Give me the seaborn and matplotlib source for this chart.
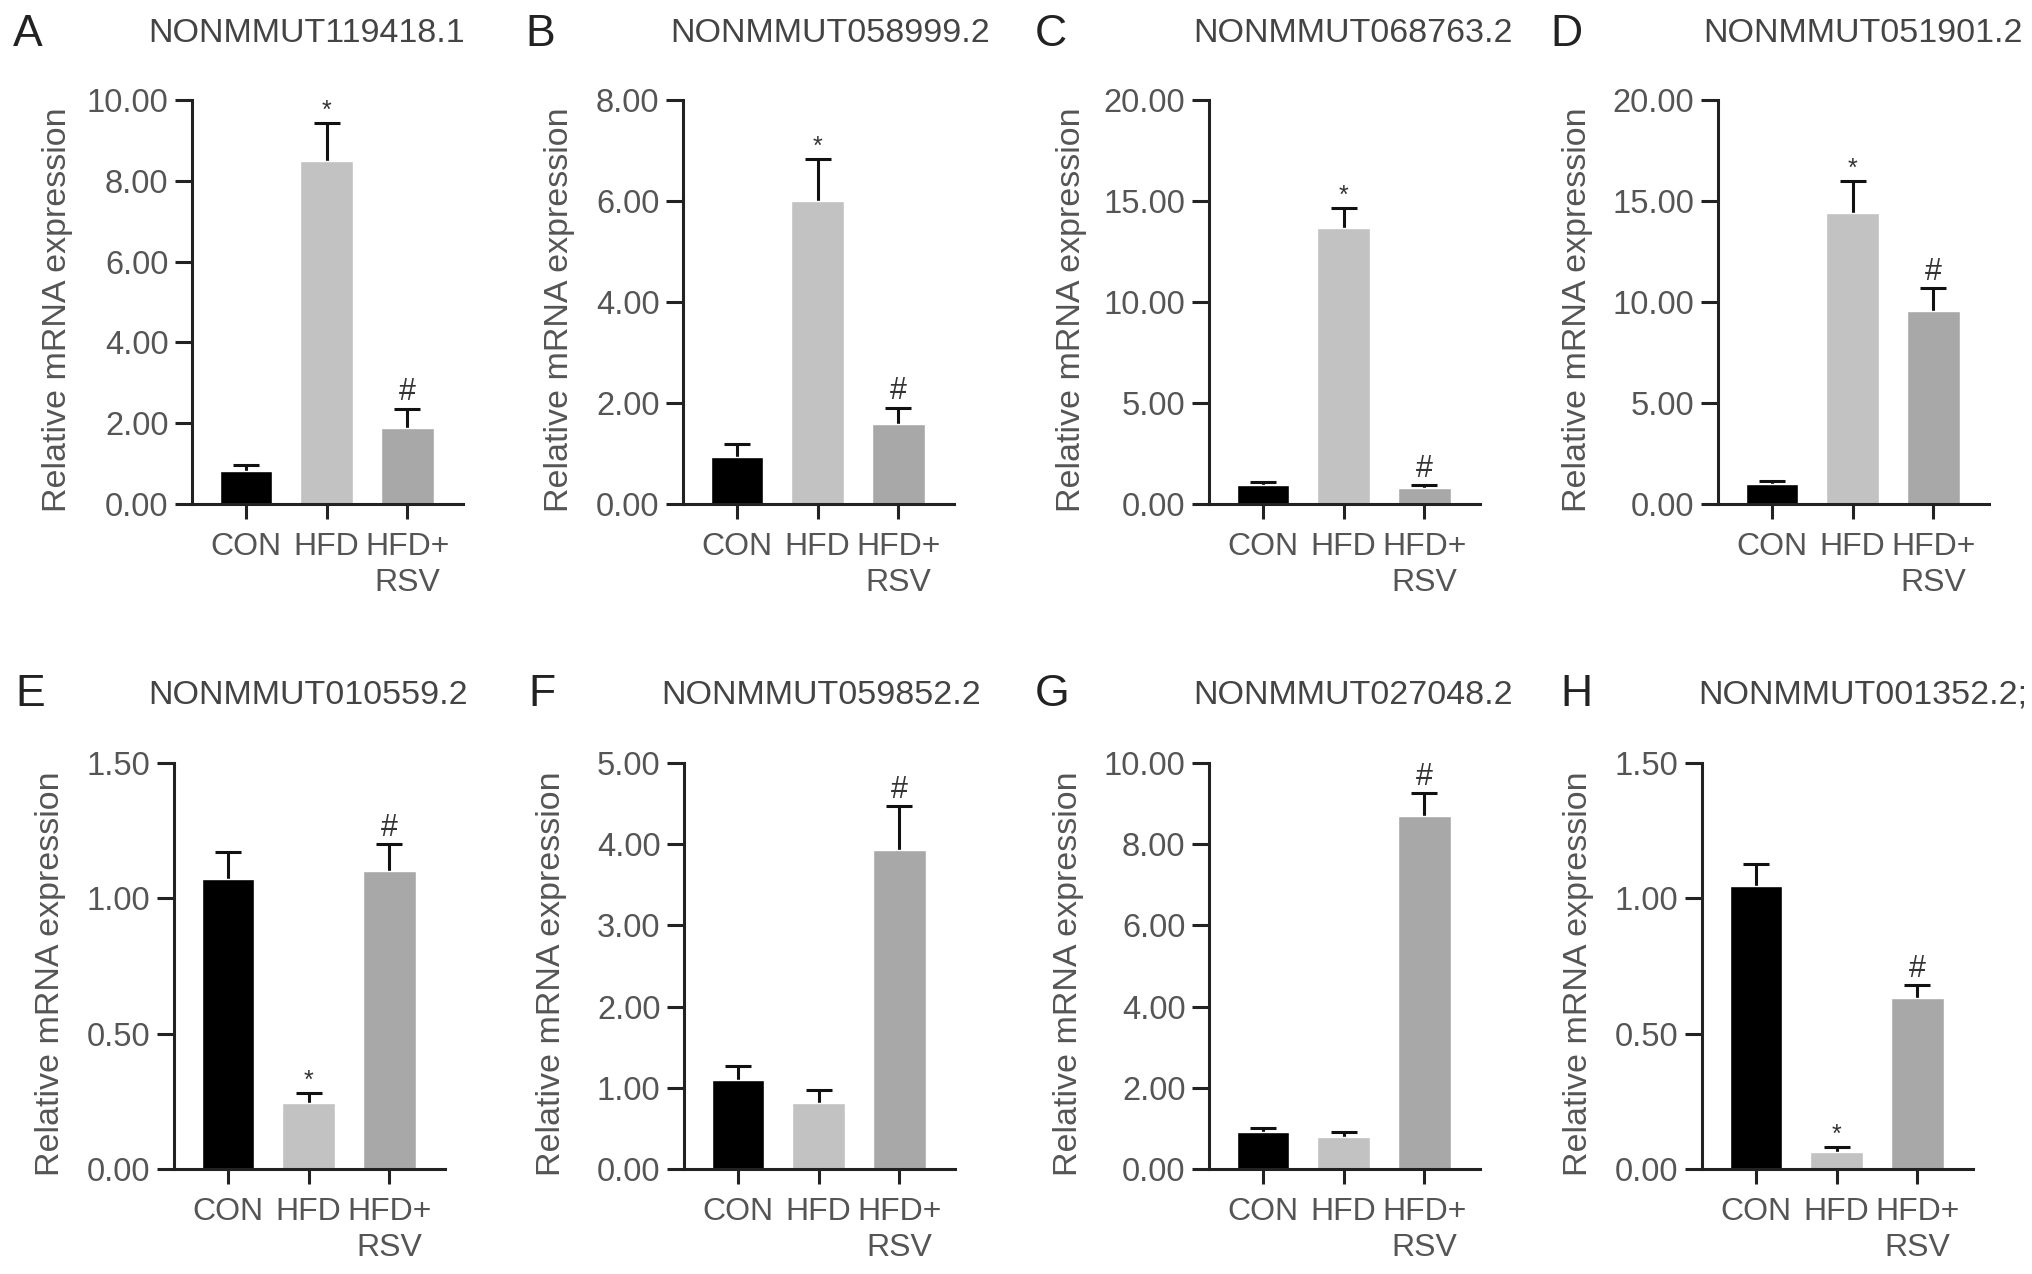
# relative lncRNA expression, 8 panels (CON / HFD / HFD+RSV)

import numpy as np
import pandas as pd
from matplotlib import pyplot as plt
import seaborn as sns

groups = ['CON', 'HFD', 'HFD+\nRSV']
letters = ['A', 'B', 'C', 'D', 'E', 'F', 'G', 'H']
genes = ['NONMMUT119418.1', 'NONMMUT058999.2', 'NONMMUT068763.2', 'NONMMUT051901.2',
         'NONMMUT010559.2', 'NONMMUT059852.2', 'NONMMUT027048.2', 'NONMMUT001352.2;']

# bar heights and upper SD
a_mean = [0.81, 8.49, 1.87]
a_err = [0.15, 0.95, 0.49]
b_mean = [0.93, 6.00, 1.58]
b_err = [0.26, 0.84, 0.33]
c_mean = [0.94, 13.67, 0.78]
c_err = [0.14, 1.00, 0.16]
d_mean = [0.98, 14.40, 9.53]
d_err = [0.16, 1.60, 1.14]
e_mean = [1.07, 0.245, 1.10]
e_err = [0.10, 0.035, 0.10]
f_mean = [1.10, 0.815, 3.93]
f_err = [0.165, 0.16, 0.54]
g_mean = [0.90, 0.78, 8.70]
g_err = [0.10, 0.12, 0.55]
h_mean = [1.044, 0.064, 0.633]
h_err = [0.082, 0.018, 0.047]

# significance marks above each bar
a_sig = ['', '*', '#']
b_sig = ['', '*', '#']
c_sig = ['', '*', '#']
d_sig = ['', '*', '#']
e_sig = ['', '*', '#']
f_sig = ['', '', '#']
g_sig = ['', '', '#']
h_sig = ['', '*', '#']

# y axis top and tick step
y_top = [10, 8, 20, 20, 1.5, 5, 10, 1.5]
y_step = [2, 2, 5, 5, 0.5, 1, 2, 0.5]

means = [a_mean, b_mean, c_mean, d_mean, e_mean, f_mean, g_mean, h_mean]
errs = [a_err, b_err, c_err, d_err, e_err, f_err, g_err, h_err]
sigs = [a_sig, b_sig, c_sig, d_sig, e_sig, f_sig, g_sig, h_sig]

bar_colors = ['#000000', '#c2c2c2', '#a8a8a8']

# layout in pixels of the 2032 x 1274 canvas
W, H = 2032, 1274
spine_x = [192, 683, 1209, 1718, 174, 684, 1209, 1702]
ax_w = 271
row_top = [100, 100, 100, 100, 763, 763, 763, 763]
row_bot = [504, 504, 504, 504, 1169, 1169, 1169, 1169]
title_x = [148, 670, 1193, 1703, 148, 661, 1193, 1698]
title_y = [34, 34, 34, 34, 695, 695, 695, 695]
letter_x = [13, 525, 1035, 1550, 15, 528, 1035, 1560]
label_x = [-0.44, -0.40, -0.45, -0.46, -0.40, -0.43, -0.46, -0.40]

sns.set_style('ticks')
plt.rcParams['font.family'] = ['Liberation Sans', 'DejaVu Sans']

tick_col = '#555555'
axis_col = '#222222'

fig = plt.figure(figsize=(W / 100, H / 100), dpi=100)

for k in range(8):
    left = spine_x[k] / W
    bottom = 1 - row_bot[k] / H
    height = (row_bot[k] - row_top[k]) / H
    ax = fig.add_axes([left, bottom, ax_w / W, height])

    df = pd.DataFrame({'group': groups, 'value': means[k]})
    sns.barplot(data=df, x='group', y='value', hue='group', palette=bar_colors,
                legend=False, width=0.65, saturation=1, ax=ax, zorder=2)
    ax.errorbar(np.arange(3), means[k], yerr=errs[k], fmt='none', ecolor='#111111',
                elinewidth=2.2, capsize=9.5, capthick=2.2, zorder=1)

    for i, s in enumerate(sigs[k]):
        if s == '':
            continue
        top = means[k][i] + errs[k][i]
        if s == '*':
            ax.annotate(s, xy=(i, top), xytext=(0, 3.5), textcoords='offset points',
                        ha='center', va='baseline', fontsize=18, color='#333333')
        else:
            ax.annotate(s, xy=(i, top), xytext=(0, 6), textcoords='offset points',
                        ha='center', va='baseline', fontsize=22, color='#333333')

    ax.set_xlim(-0.67, 2.69)
    ax.set_ylim(0, y_top[k])
    ticks = np.arange(0, y_top[k] + y_step[k] / 2, y_step[k])
    ax.set_yticks(ticks)
    ax.set_yticklabels(['%.2f' % t for t in ticks])

    sns.despine(ax=ax)
    for side in ['left', 'bottom']:
        ax.spines[side].set_linewidth(2.2)
        ax.spines[side].set_color(axis_col)

    ax.tick_params(axis='y', direction='out', length=12, width=2.2, color=axis_col,
                   labelsize=23.5, labelcolor=tick_col, pad=5)
    ax.tick_params(axis='x', direction='out', length=11, width=2.2, color=axis_col,
                   labelsize=23, labelcolor=tick_col, pad=9)
    for lab in ax.get_xticklabels():
        lab.set_linespacing(1.25)

    ax.set_xlabel('')
    ax.set_ylabel('Relative mRNA expression', fontsize=24.5, color=tick_col)
    ax.yaxis.set_label_coords(label_x[k], 0.48)

    fig.text(title_x[k] / W, 1 - title_y[k] / H, genes[k], fontsize=24.5,
             color='#444444', ha='left', va='center')
    fig.text(letter_x[k] / W, 1 - title_y[k] / H, letters[k], fontsize=32,
             color='#222222', ha='left', va='center')

plt.savefig('out.png', dpi=100)
